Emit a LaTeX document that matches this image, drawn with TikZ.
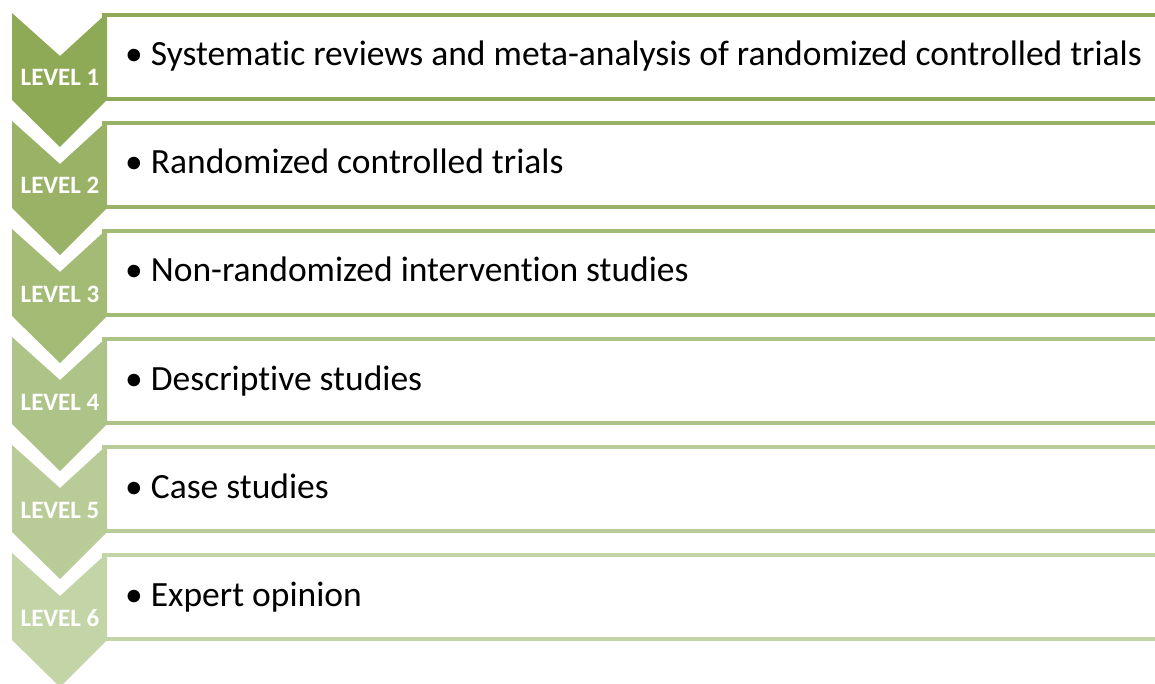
\documentclass[tikz,border=0pt]{standalone}
\usepackage{fontspec}
\setmainfont{Carlito}[Ligatures={NoCommon,NoRequired,NoContextual}]
\usepackage{xcolor}
\usetikzlibrary{positioning}
\definecolor{lvone}{RGB}{143,170,86}
\definecolor{lvtwo}{RGB}{153,178,102}
\definecolor{lvthree}{RGB}{164,187,118}
\definecolor{lvfour}{RGB}{174,195,135}
\definecolor{lvfive}{RGB}{185,204,151}
\definecolor{lvsix}{RGB}{195,212,167}
\tikzset{
    itembox/.style={line width=4pt, fill=white},
    levellabel/.style={text=white, font=\fontsize{25}{25}\selectfont\bfseries, anchor=base, inner sep=0pt},
    itemtext/.style={font=\fontsize{35.5}{35.5}\selectfont, anchor=base west, inner sep=0pt}
}

\begin{document}
\begin{tikzpicture}[x=1pt, y=-1pt]
    \useasboundingbox (0,0) rectangle (1155,684);
    \clip (0,0) rectangle (1155,684);
    % level 1
    \draw[itembox, draw=lvone] (104,15) rectangle (1162,99);
    \fill[lvone] (12,13) -- (60,56) -- (107,13) -- (107,100) -- (60,147) -- (12,100) -- cycle;
    \node[levellabel] (lab1) at (60,86) {LEVEL 1};
    \node[itemtext] (txt1) at (125,66) {• Systematic reviews and meta-analysis of randomized controlled trials};
    % level 2
    \draw[itembox, draw=lvtwo] (104,123) rectangle (1162,207);
    \fill[lvtwo] (12,121) -- (60,164) -- (107,121) -- (107,208) -- (60,255) -- (12,208) -- cycle;
    \node[levellabel] (lab2) at (60,194) {LEVEL 2};
    \node[itemtext] (txt2) at (125,174) {• Randomized controlled trials};
    % level 3
    \draw[itembox, draw=lvthree] (104,231) rectangle (1162,315);
    \fill[lvthree] (12,229) -- (60,272) -- (107,229) -- (107,316) -- (60,363) -- (12,316) -- cycle;
    \node[levellabel] (lab3) at (60,302) {LEVEL 3};
    \node[itemtext] (txt3) at (125,282) {• Non-randomized intervention studies};
    % level 4
    \draw[itembox, draw=lvfour] (104,339) rectangle (1162,423);
    \fill[lvfour] (12,337) -- (60,380) -- (107,337) -- (107,424) -- (60,471) -- (12,424) -- cycle;
    \node[levellabel] (lab4) at (60,410) {LEVEL 4};
    \node[itemtext] (txt4) at (125,390) {• Descriptive studies};
    % level 5
    \draw[itembox, draw=lvfive] (104,447) rectangle (1162,531);
    \fill[lvfive] (12,445) -- (60,488) -- (107,445) -- (107,532) -- (60,579) -- (12,532) -- cycle;
    \node[levellabel] (lab5) at (60,518) {LEVEL 5};
    \node[itemtext] (txt5) at (125,498) {• Case studies};
    % level 6
    \draw[itembox, draw=lvsix] (104,555) rectangle (1162,639);
    \fill[lvsix] (12,553) -- (60,596) -- (107,553) -- (107,640) -- (60,687) -- (12,640) -- cycle;
    \node[levellabel] (lab6) at (60,626) {LEVEL 6};
    \node[itemtext] (txt6) at (125,606) {• Expert opinion};
\end{tikzpicture}
\end{document}
